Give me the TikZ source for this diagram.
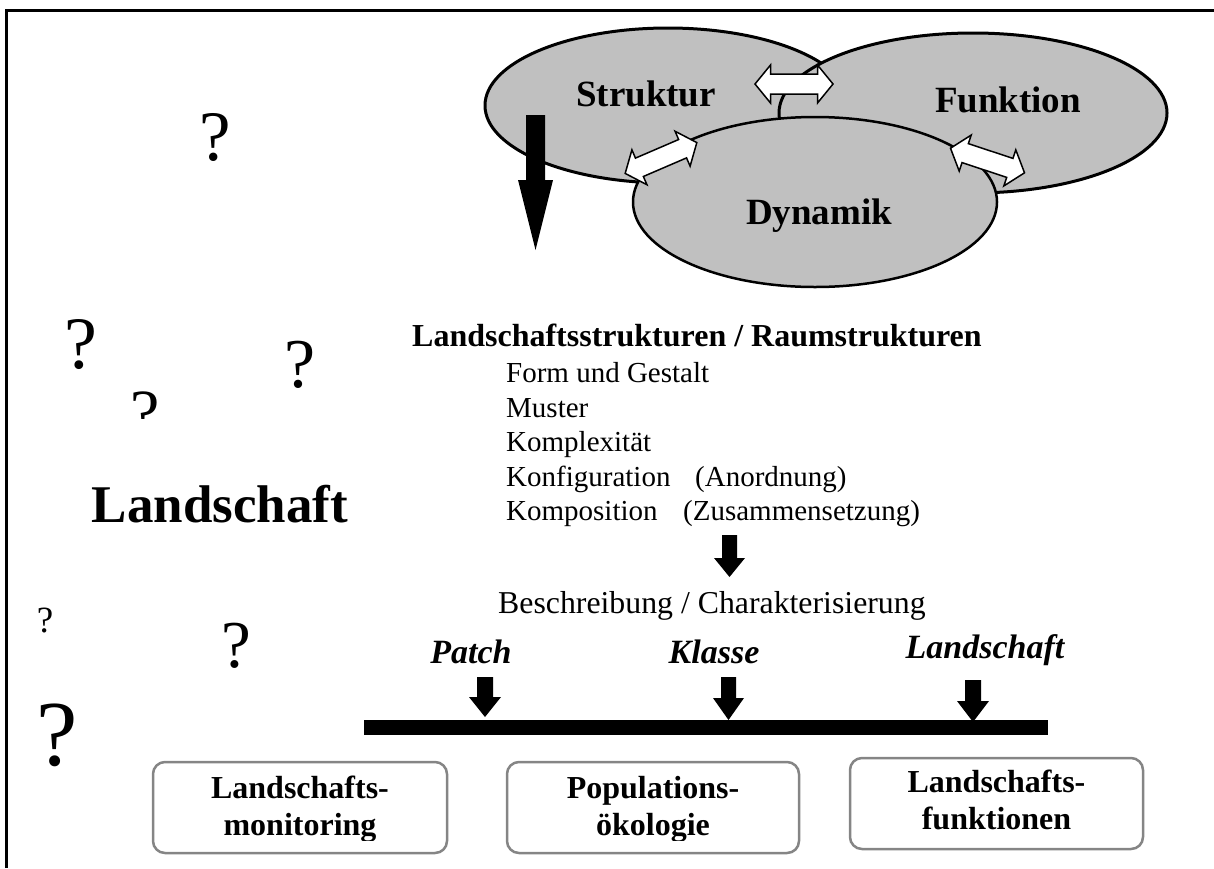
\documentclass[tikz,border=0pt]{standalone}
\usepackage{fontspec}
\setmainfont{Liberation Serif}
\usetikzlibrary{shapes.geometric}
\definecolor{ellgray}{HTML}{C0C0C0}
\definecolor{boxgray}{HTML}{858585}
\newcommand\setfs[1]{\fontsize{#1}{#1}\selectfont}
\begin{document}
\begin{tikzpicture}[x=1pt,y=-1pt,
  ell/.style={ellipse, draw=black, line width=3pt, fill=ellgray, inner sep=0pt},
  elllabel/.style={anchor=base, inner sep=0pt, font=\setfs{37}\bfseries},
  qm/.style={anchor=base, inner sep=0pt},
  item/.style={anchor=base west, inner sep=0pt, font=\setfs{29}},
  scalelabel/.style={anchor=base, inner sep=0pt, font=\setfs{34}\bfseries\itshape},
  boxstyle/.style={draw=boxgray, line width=2.5pt, rounded corners=12pt, minimum height=91pt, inner sep=0pt},
  boxtext/.style={anchor=base, inner sep=0pt, font=\setfs{32}\bfseries},
  blackarrow/.style={fill=black, draw=none},
  pics/dblarr/.style={code={
    \draw[fill=white, line width=1.5pt, line join=miter]
      (-39,0) -- (-23.5,-19) -- (-23.5,-10) -- (23.5,-10) -- (23.5,-19) -- (39,0)
      -- (23.5,19) -- (23.5,10) -- (-23.5,10) -- (-23.5,19) -- cycle;}}
]
\useasboundingbox (0,0) rectangle (1214,868);
% frame
\draw[line width=3pt] (6.5,868) -- (6.5,10) -- (1214,10);

% ellipses
\node[ell, minimum width=366pt, minimum height=155pt] (struktur) at (668,105.5) {};
\node[ell, minimum width=388pt, minimum height=160pt] (funktion) at (973,113) {};
\node[ell, line width=2.5pt, minimum width=364pt, minimum height=170pt] (dynamik) at (815,202) {};
\node[elllabel] (lstruktur) at (646,106) {Struktur};
\node[elllabel] (lfunktion) at (1008,112) {Funktion};
\node[elllabel] (ldynamik) at (819,224) {Dynamik};

% double arrows
\pic (a1) at (794,84) {dblarr};
\pic[rotate=23.3] (a2) at (661,158) {dblarr};
\pic[rotate=-18.4] (a3) at (987.5,160.5) {dblarr};

% big black arrow
\fill[blackarrow] (526,115) -- (545,115) -- (545,180) -- (553,180) -- (535.5,250) -- (518,180) -- (526,180) -- cycle;

% question marks and Landschaft
\node[qm, font=\setfs{71}] (q1) at (215,160) {?};
\node[qm, font=\setfs{74}] (q2) at (81,368) {?};
\begin{scope}
  \clip (100,380) rectangle (190,418);
  \node[qm, font=\setfs{66}] (q3) at (145,435) {?};
\end{scope}
\node[qm, font=\setfs{70}] (q4) at (300,387) {?};
\node[qm, font=\setfs{37}] (q5) at (45,632) {?};
\node[qm, font=\setfs{67}] (q6) at (236,667) {?};
\node[qm, font=\setfs{93}] (q7) at (57,765) {?};
\node[anchor=base, inner sep=0pt, font=\setfs{53}\bfseries] (landschaft) at (220,522) {Landschaft};

% text block
\node[anchor=base west, inner sep=0pt, font=\setfs{32}\bfseries] (head) at (412,346) {Landschaftsstrukturen / Raumstrukturen};
\node[item] (i1) at (506,382) {Form und Gestalt};
\node[item] (i2) at (506,417) {Muster};
\node[item] (i3) at (506,451) {Komplexität};
\node[item] (i4) at (506,486) {Konfiguration};
\node[item] (i4b) at (695,486) {(Anordnung)};
\node[item] (i5) at (506,520) {Komposition};
\node[item] (i5b) at (683,520) {(Zusammensetzung)};
\fill[blackarrow] (722,535) -- (737,535) -- (737,558) -- (745,558) -- (729.5,577) -- (714,558) -- (722,558) -- cycle;
\node[anchor=base west, inner sep=0pt, font=\setfs{31.8}] (beschr) at (498,613) {Beschreibung / Charakterisierung};

% scale
\node[scalelabel] (patch) at (471,663) {Patch};
\node[scalelabel] (klasse) at (714,663) {Klasse};
\node[scalelabel] (lands) at (985,658) {Landschaft};
\fill[blackarrow] (364,720) rectangle (1048,735);
\fill[blackarrow] (477,677) -- (493,677) -- (493,697) -- (501,697) -- (485,717) -- (469,697) -- (477,697) -- cycle;
\fill[blackarrow] (721,677) -- (736,677) -- (736,698) -- (744,698) -- (728.5,720) -- (713,698) -- (721,698) -- cycle;
\fill[blackarrow] (965,680) -- (981,680) -- (981,701) -- (989,701) -- (973,722) -- (957,701) -- (965,701) -- cycle;

% boxes
\node[boxstyle, minimum width=294pt] (box1) at (300,807.5) {};
\node[boxstyle, minimum width=292pt] (box2) at (653,807.5) {};
\node[boxstyle, minimum width=293pt] (box3) at (996.5,803.5) {};
\begin{scope}
  \clip (140,750) rectangle (820,840);
  \node[boxtext] (b1a) at (300,798) {Landschafts-};
  \node[boxtext] (b1b) at (300,835) {monitoring};
  \node[boxtext] (b2a) at (653,798) {Populations-};
  \node[boxtext] (b2b) at (653,835) {ökologie};
\end{scope}
\node[boxtext] (b3a) at (996.5,792) {Landschafts-};
\node[boxtext] (b3b) at (996.5,829) {funktionen};
\end{tikzpicture}
\end{document}
